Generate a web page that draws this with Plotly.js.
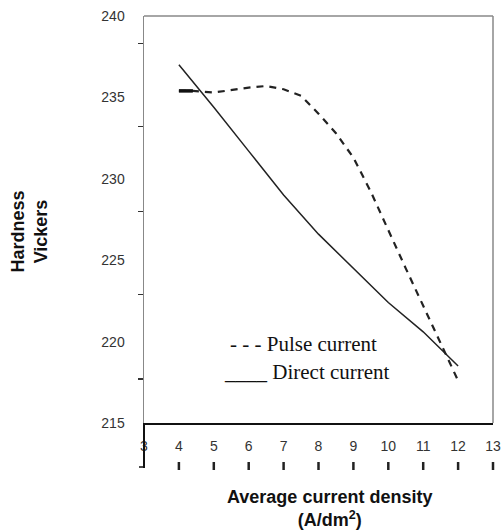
<!DOCTYPE html>
<html>
<head>
<meta charset="utf-8">
<script src="https://cdn.plot.ly/plotly-3.0.1.min.js"></script>
<style>html,body{margin:0;padding:0;background:#fff;}#chart{width:504px;height:532px;}</style>
</head>
<body>
<div id="chart"></div>
<script>
// Data
var directX = [4, 5, 6, 7, 8, 9, 10, 11, 12];
var directY = [237.0, 234.4, 231.7, 229.0, 226.6, 224.5, 222.4, 220.6, 218.5];
var pulseX = [4, 4.4, 5, 6, 6.5, 7, 7.5, 8, 8.5, 9, 9.5, 10, 10.5, 11, 11.5, 12];
var pulseY = [235.4, 235.4, 235.3, 235.6, 235.7, 235.5, 235.1, 234.0, 232.8, 231.3, 229.2, 226.8, 224.5, 222.2, 219.9, 217.6];
var xTicks = [3, 4, 5, 6, 7, 8, 9, 10, 11, 12, 13];
var yTicks = [215, 220, 225, 230, 235, 240];
var legendPulse = "- - - Pulse current";
var legendDirect = "____ Direct current";
var yTitle = "Hardness<br>Vickers";
var xTitle = "Average current density<br>(A/dm<sup>2</sup>)";

var W = 504, H = 532, L = 144, R = 11, T = 16, B = 62;
var plotH = H - T - B, plotW = W - L - R;
var axisBottomPx = 423;
var yDom0 = (H - B - axisBottomPx) / plotH;
var xMin = 3, xMax = 13;
function px(xp) { return (xp - L) / plotW; }
function py(yp) { return (H - B - yp) / plotH; }

var traces = [
  {x: directX, y: directY, type: 'scatter', mode: 'lines', line: {color: '#222', width: 1.5}, hoverinfo: 'skip'},
  {x: pulseX, y: pulseY, type: 'scatter', mode: 'lines', line: {color: '#222', width: 2.2, dash: '7px,6px'}, hoverinfo: 'skip'},
  {x: pulseX.slice(0, 2), y: pulseY.slice(0, 2), type: 'scatter', mode: 'lines', line: {color: '#111', width: 3.5}, hoverinfo: 'skip'},
  {x: [xTicks[0]], y: [yTicks[0]], yaxis: 'y2', type: 'scatter', mode: 'markers', marker: {opacity: 0}, hoverinfo: 'skip'}
];

var tickFont = {family: 'Liberation Sans, Arial, sans-serif', size: 14, color: '#333'};

var shapes = [
  {type: 'line', xref: 'paper', yref: 'paper', x0: 0, x1: 1, y0: 1, y1: 1, line: {color: '#888', width: 1.5}},
  {type: 'line', xref: 'paper', yref: 'paper', x0: 1, x1: 1, y0: yDom0, y1: 1, line: {color: '#888', width: 1.5}},
  {type: 'line', xref: 'paper', yref: 'paper', x0: 0, x1: 0, y0: py(468), y1: yDom0, line: {color: '#111', width: 2}},
  {type: 'line', xref: 'paper', yref: 'paper', x0: px(139), x1: 0, y0: py(467), y1: py(467), line: {color: '#111', width: 1.5}}
];
// lower row of x tick marks (below the labels, as in the reference)
xTicks.slice(1).forEach(function (v) {
  var xf = (v - xMin) / (xMax - xMin);
  shapes.push({type: 'line', xref: 'paper', yref: 'paper', x0: xf, x1: xf, y0: py(462), y1: py(470), line: {color: '#222', width: 2.5}});
});

var layout = {
  width: W, height: H,
  margin: {l: L, r: R, t: T, b: B, pad: 0},
  paper_bgcolor: '#fff', plot_bgcolor: '#fff',
  showlegend: false,
  hovermode: false,
  xaxis: {
    range: [xMin, xMax], tickmode: 'array', tickvals: xTicks, ticktext: xTicks.map(String),
    showgrid: false, zeroline: false, showline: true, linecolor: '#111', linewidth: 2,
    ticks: '', ticklabelstandoff: 9, tickfont: tickFont, anchor: 'y', fixedrange: true
  },
  yaxis: {
    range: [215, 240], domain: [yDom0, 1], tickmode: 'array', tickvals: yTicks, ticktext: yTicks.map(String),
    showgrid: false, zeroline: false, showline: true, linecolor: '#888', linewidth: 1.5,
    ticks: '', ticklabelstandoff: 15, tickfont: tickFont, anchor: 'x', fixedrange: true
  },
  yaxis2: {
    range: [215, 240], domain: [yDom0, 1], overlaying: 'y', anchor: 'x', side: 'left',
    tickmode: 'array', tickvals: [238.3, 233.2, 228.0, 222.9, 217.7], showticklabels: false,
    ticks: 'outside', ticklen: 5, tickwidth: 1.5, tickcolor: '#333',
    showline: false, showgrid: false, zeroline: false, fixedrange: true
  },
  shapes: shapes,
  annotations: [
    {text: legendPulse, xref: 'paper', yref: 'paper', x: px(228), y: py(344), xanchor: 'left', yanchor: 'middle', showarrow: false,
     font: {family: 'Liberation Serif, Times New Roman, serif', size: 21, color: '#111'}},
    {text: legendDirect, xref: 'paper', yref: 'paper', x: px(222), y: py(372), xanchor: 'left', yanchor: 'middle', showarrow: false,
     font: {family: 'Liberation Serif, Times New Roman, serif', size: 21, color: '#111'}},
    {text: '<b>' + yTitle.replace('<br>', '</b><br><b>') + '</b>', xref: 'paper', yref: 'paper', x: px(28.5), y: py(232), xanchor: 'center', yanchor: 'middle',
     textangle: -90, showarrow: false, font: {family: 'Liberation Sans, Arial, sans-serif', size: 18, color: '#111'}},
    {text: '<b>' + xTitle.replace('<br>', '</b><br><b>') + '</b>', xref: 'paper', yref: 'paper', x: px(329), y: py(509), xanchor: 'center', yanchor: 'middle',
     showarrow: false, font: {family: 'Liberation Sans, Arial, sans-serif', size: 18, color: '#111'}}
  ]
};

Plotly.newPlot('chart', traces, layout, {displayModeBar: false, staticPlot: true});
</script>
</body>
</html>
